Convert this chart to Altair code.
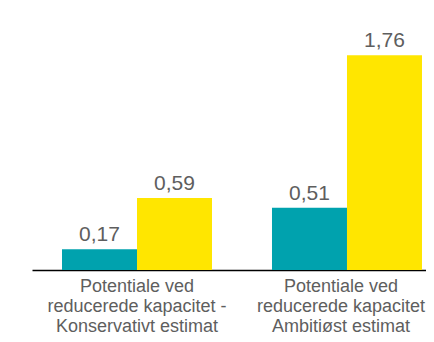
import altair as alt
import pandas as pd

groups = [
    "Potentiale ved|reducerede kapacitet -|Konservativt estimat",
    "Potentiale ved|reducerede kapacitet|Ambitiøst estimat",
]
series = ["A", "B"]
values_a = [0.17, 0.51]
values_b = [0.59, 1.76]

rows = []
for g, va, vb in zip(groups, values_a, values_b):
    rows.append({"group": g, "series": series[0], "value": va})
    rows.append({"group": g, "series": series[1], "value": vb})
df = pd.DataFrame(rows)

colors = ["#00A2AE", "#FFE600"]
text_color = "#5e5e5e"

x = alt.X(
    "group:N",
    sort=groups,
    title=None,
    scale=alt.Scale(paddingInner=0.2857, paddingOuter=0.081, align=0.882),
    axis=alt.Axis(
        labelExpr="split(datum.label, '|')",
        labelAngle=0,
        labelFont="Liberation Sans",
        labelFontSize=18,
        labelColor=text_color,
        labelLineHeight=20,
        labelPadding=7,
        labelLimit=400,
        labelOffset={"condition": {"test": "indexof(datum.label, 'Ambiti') >= 0", "value": -6}, "value": 0},
        ticks=False,
        domainColor="#000000",
        domainWidth=1.5,
        grid=False,
    ),
)
y = alt.Y("value:Q", scale=alt.Scale(domain=[0, 2.147], nice=False, zero=True), axis=None)
xo = alt.XOffset("series:N", sort=series, scale=alt.Scale(paddingInner=0, paddingOuter=0))

base = alt.Chart(df).encode(x=x, xOffset=xo, y=y)

bars = base.mark_bar(size=75).encode(
    color=alt.Color("series:N", scale=alt.Scale(domain=series, range=colors), legend=None)
)

labels = base.transform_calculate(
    lab="replace(format(datum.value, '.2f'), '.', ',')"
).mark_text(
    dy=-8, baseline="alphabetic", font="Liberation Sans", fontSize=21, color=text_color
).encode(text="lab:N")

chart = (bars + labels).properties(
    width=394, height=262,
    padding={"left": 24, "top": 0, "right": 0, "bottom": 64},
    autosize=alt.AutoSizeParams(type="none"),
).configure_view(stroke=None)

chart.save("out.html", embed_options={"renderer": "svg", "actions": False})
